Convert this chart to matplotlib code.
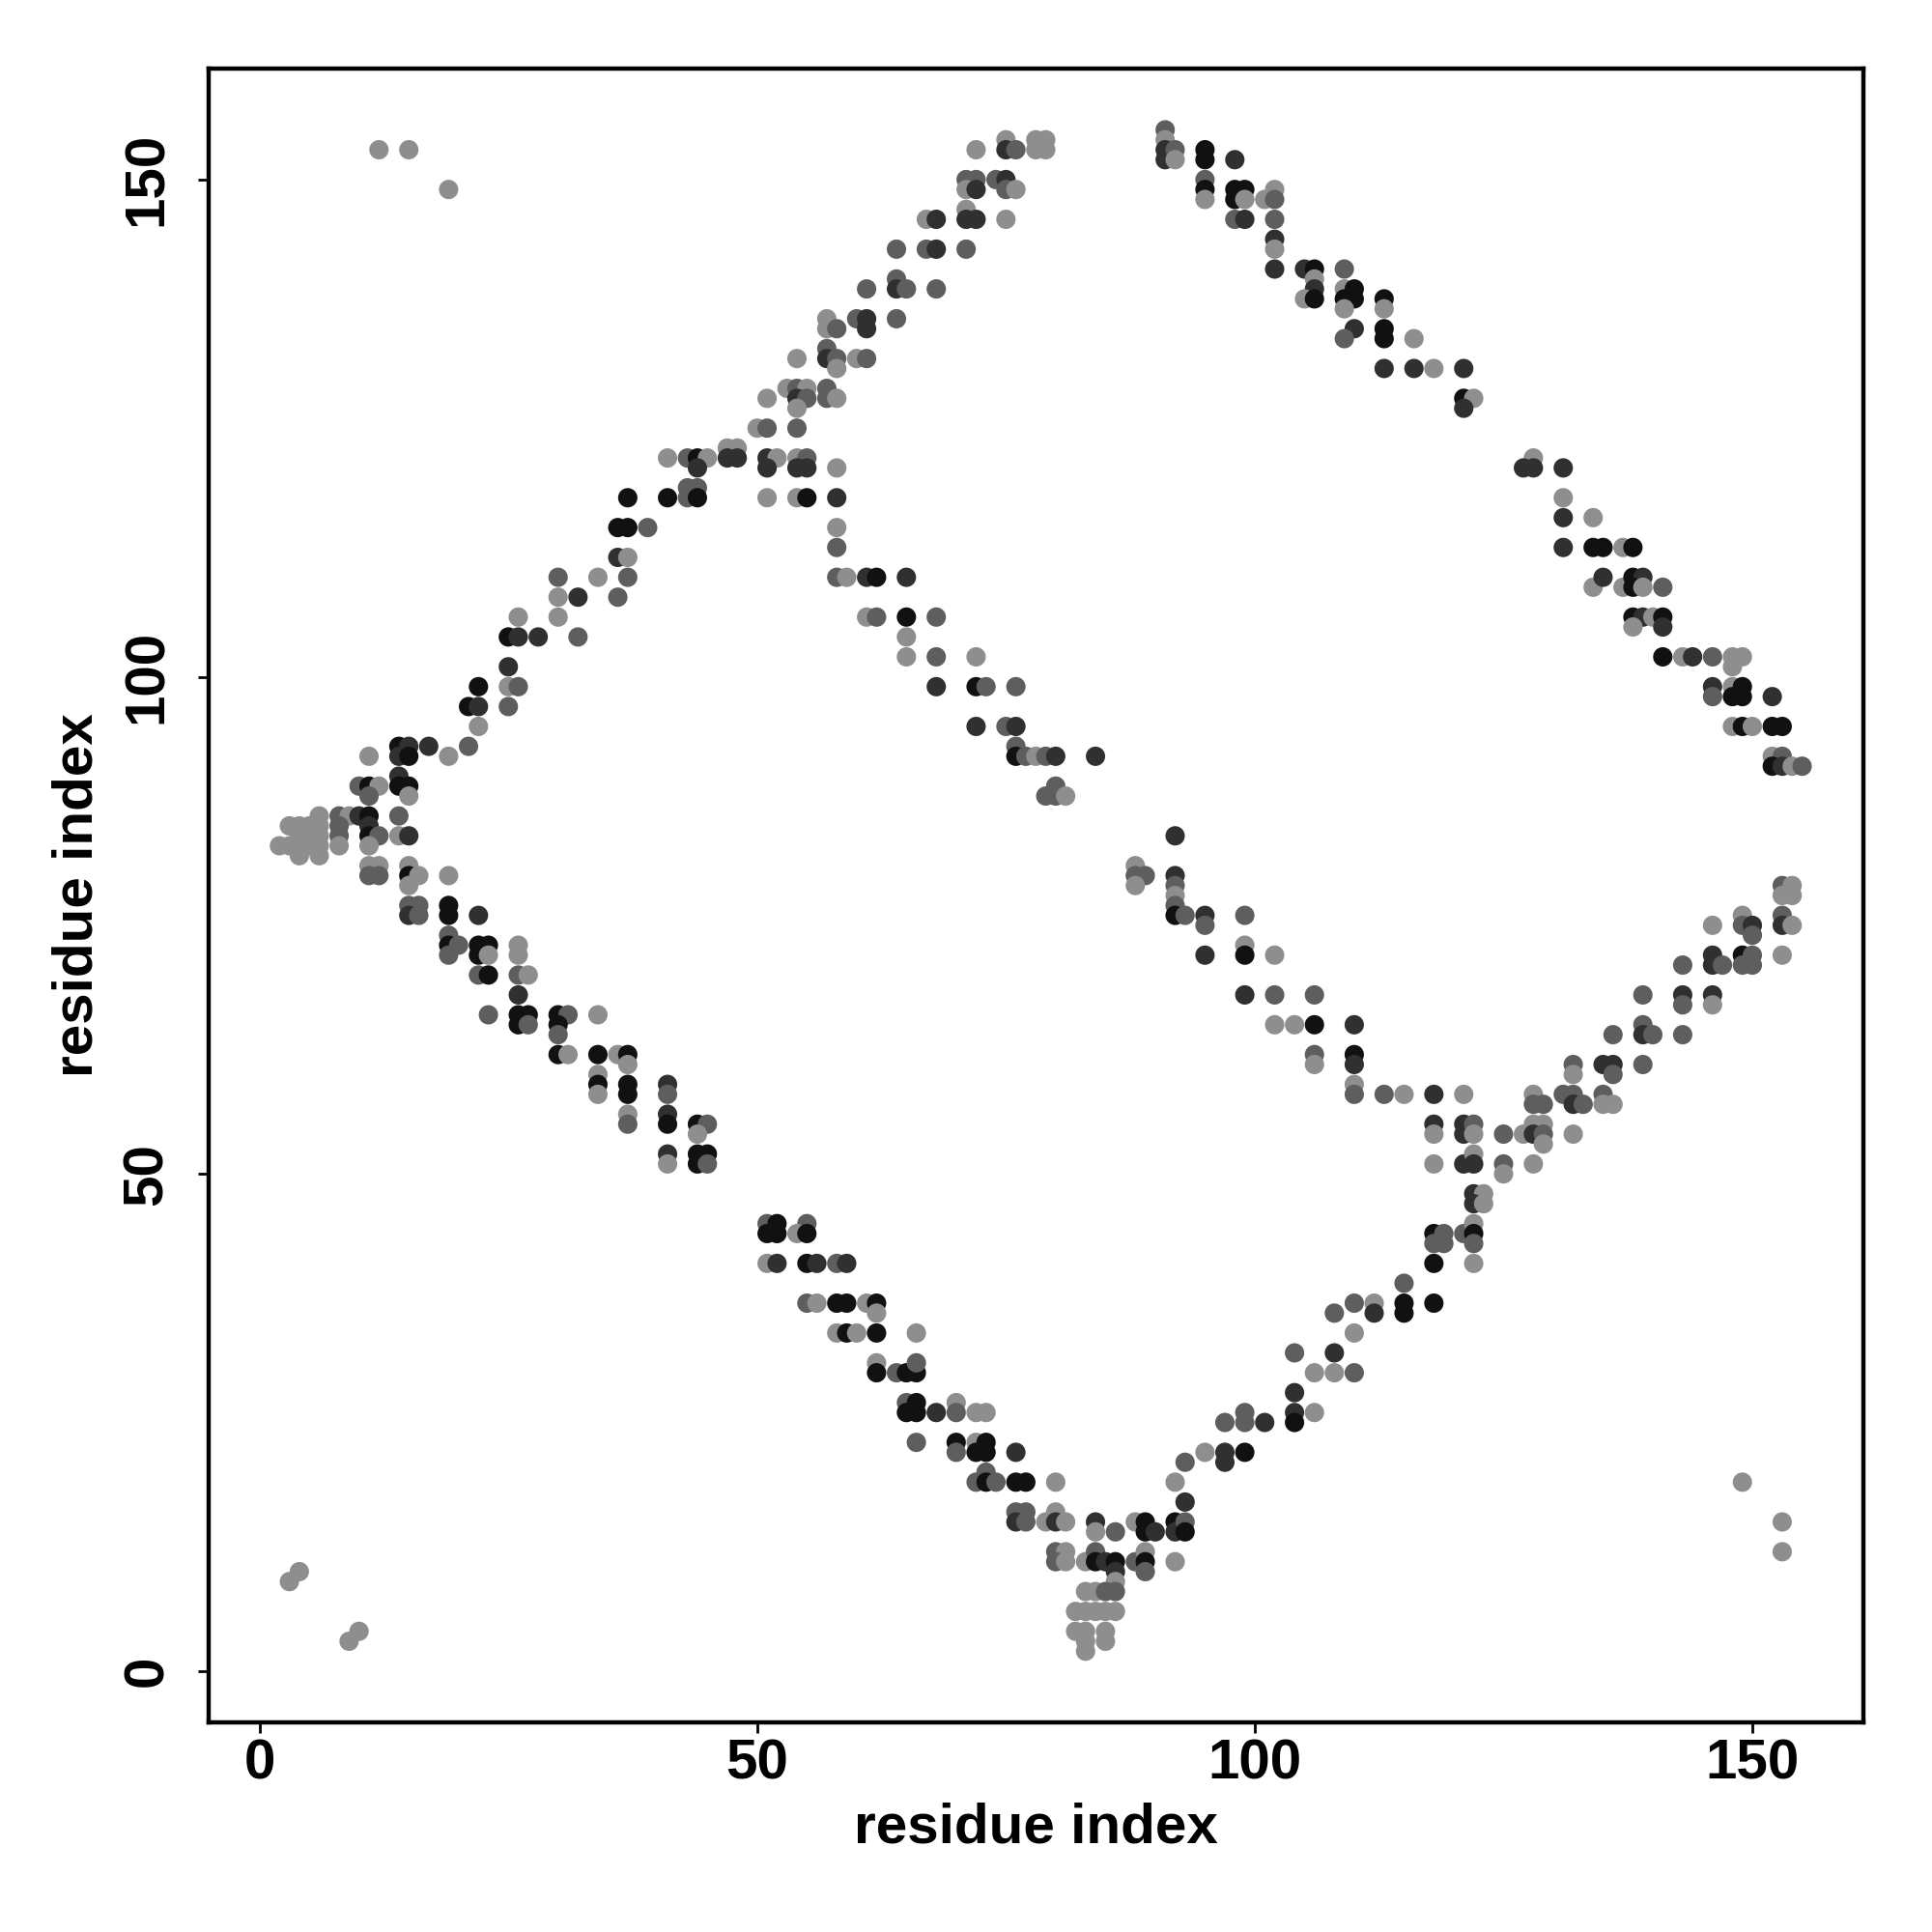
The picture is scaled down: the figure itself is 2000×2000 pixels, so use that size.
import matplotlib
matplotlib.use('Agg')
import matplotlib.pyplot as plt

# shade codes for each contact: black, dark grey, mid grey, light grey
b, d, m, l = 0, 1, 2, 3
SHADES = ['#111111', '#303030', '#5e5e5e', '#8e8e8e']

# (residue i, residue j, shade)
upper_left_arm = [
    (41, 122, l), (37, 118, b), (41, 118, b), (36, 115, b), (37, 115, b), (39, 115, m),
    (36, 112, d), (37, 112, l), (30, 110, m), (34, 110, l), (37, 110, m),
    (30, 108, l), (32, 108, d), (36, 108, m), (26, 106, l), (30, 106, l),
    (25, 104, b), (26, 104, d), (28, 104, d), (32, 104, m), (25, 101, d),
    (22, 99, b), (25, 99, l), (26, 99, m), (21, 97, b), (22, 97, d), (25, 97, m),
    (22, 95, l), (14, 93, b), (15, 93, d), (17, 93, d), (19, 92, l), (21, 93, m),
    (14, 92, d), (15, 92, b), (11, 92, l), (14, 90, d),
    (10, 89, m), (11, 89, b), (12, 89, l), (11, 88, m), (14, 89, b), (15, 89, b), (15, 88, l),
    (6, 86, l), (8, 86, m), (9, 86, l), (10, 86, d), (11, 86, b), (14, 86, m),
    (3, 85, l), (4, 85, l), (5, 85, l), (6, 85, l), (4, 84, l), (5, 84, l), (6, 84, l),
    (2, 83, l), (3, 83, l), (4, 83, l), (5, 83, l), (6, 83, l), (4, 82, l), (6, 82, l),
    (8, 85, m), (8, 84, m), (8, 83, l),
    (11, 85, d), (11, 84, b), (12, 84, m), (11, 83, l), (14, 84, l), (15, 84, d),
    (11, 81, l), (12, 81, l), (11, 80, m), (12, 80, m),
    (15, 81, l), (15, 80, b), (16, 80, l), (19, 80, l), (15, 79, l),
]

upper_left_top = [
    (72, 153, l), (75, 154, l), (75, 153, d), (76, 153, m),
    (78, 154, l), (79, 154, l), (78, 153, l), (79, 153, l),
    (71, 150, m), (72, 150, m), (71, 149, l), (72, 149, d),
    (74, 150, m), (75, 150, d), (75, 149, m), (76, 149, l),
    (67, 146, l), (68, 146, d), (71, 147, l), (71, 146, d), (72, 146, d), (75, 146, l),
    (64, 143, m), (67, 143, m), (68, 143, d), (71, 143, m),
    (64, 140, m), (64, 139, d), (65, 139, m), (61, 139, m), (68, 139, m),
    (57, 136, l), (57, 135, l), (58, 135, m), (60, 136, m), (61, 136, d), (61, 135, d), (64, 136, m),
    (54, 132, l), (57, 133, m), (57, 132, d), (58, 132, m), (58, 131, l), (60, 132, l), (61, 132, m),
    (51, 128, l), (53, 129, l), (54, 129, m), (55, 129, l), (54, 128, d), (55, 128, m), (54, 127, l),
    (57, 129, m), (57, 128, m), (58, 128, l),
    (50, 125, l), (51, 125, m), (54, 125, m),
    (43, 122, m), (44, 122, b), (45, 122, l), (44, 121, d),
    (47, 123, l), (48, 123, l), (47, 122, d), (48, 122, d),
    (51, 122, d), (52, 122, l), (51, 121, d),
    (54, 122, l), (55, 122, m), (54, 121, d), (55, 121, d), (58, 121, l),
    (43, 119, m), (44, 119, m), (43, 118, m), (44, 118, b),
    (51, 118, l), (54, 118, l), (55, 118, b), (58, 118, d),
    (58, 115, l), (58, 113, m),
]

inner_left_arm = [
    (58, 110, m), (59, 110, l), (61, 110, d), (62, 110, b), (65, 110, d),
    (61, 106, l), (62, 106, m), (65, 106, b), (68, 106, m), (65, 104, l),
    (65, 102, l), (68, 102, m), (72, 102, l),
    (68, 99, d), (72, 99, b), (73, 99, m), (76, 99, m),
    (72, 95, d), (75, 95, m), (76, 95, d),
    (76, 93, m), (76, 92, b), (77, 92, m), (78, 92, l), (79, 92, m), (80, 92, d), (84, 92, d),
    (80, 89, m), (79, 88, m), (80, 88, m), (81, 88, l),
]

lower_left_arm = [
    (15, 77, m), (16, 77, m), (15, 76, d), (16, 76, m), (19, 77, b), (19, 76, b), (22, 76, d),
    (19, 74, m), (19, 73, b), (20, 73, m), (19, 72, m),
    (22, 73, b), (23, 73, b), (22, 72, b), (23, 72, l), (26, 73, l), (26, 72, l),
    (22, 70, m), (23, 70, b), (26, 70, m), (27, 70, l), (26, 68, d),
    (23, 66, m), (26, 66, b), (27, 66, b), (26, 65, b), (27, 65, m),
    (30, 66, b), (31, 66, m), (30, 65, b), (30, 64, m), (34, 66, l),
    (30, 62, b), (31, 62, l), (34, 62, b), (36, 62, l), (37, 62, b), (37, 61, l),
    (34, 60, l), (34, 59, b), (34, 58, l), (37, 59, b), (37, 58, b),
    (41, 59, d), (41, 58, m), (37, 56, l), (37, 55, m), (41, 56, d), (41, 55, b),
    (44, 55, b), (45, 55, m), (44, 54, l), (41, 52, d), (41, 51, l),
    (44, 52, b), (45, 52, b), (44, 51, b), (45, 51, m),
]

middle_arm = [
    (51, 45, m), (52, 45, b), (51, 44, b), (52, 44, b), (55, 45, m), (54, 44, l), (55, 44, b),
    (51, 41, l), (52, 41, d), (55, 41, b), (56, 41, d), (58, 41, m), (59, 41, d),
    (55, 37, m), (56, 37, l), (58, 37, b), (59, 37, b), (61, 37, l), (62, 37, b), (62, 36, l),
    (58, 34, l), (59, 34, b), (60, 34, l), (62, 34, b), (66, 34, l),
    (62, 31, l), (62, 30, b), (64, 30, m), (65, 30, b), (66, 30, b), (66, 31, m),
    (65, 27, m), (66, 27, b), (65, 26, b), (66, 26, b), (68, 26, d), (70, 27, l), (70, 26, m),
    (72, 26, l), (73, 26, l),
    (66, 23, m), (70, 23, b), (70, 22, m), (72, 23, l), (73, 23, b), (72, 22, b), (73, 22, b), (76, 22, d),
    (72, 19, m), (73, 20, m), (73, 19, b), (74, 19, m), (76, 19, b), (77, 19, b), (80, 19, l),
    (76, 16, m), (77, 16, m), (76, 15, d), (77, 15, m), (80, 16, l), (79, 15, l), (80, 15, d), (81, 15, l),
    (84, 15, d), (84, 14, l), (86, 14, m),
    (88, 15, l), (89, 15, b), (89, 14, b), (90, 14, d), (92, 15, b), (92, 14, d), (93, 15, m), (93, 14, b),
    (80, 12, m), (81, 12, l), (80, 11, m), (81, 11, l),
    (83, 11, l), (84, 12, m), (84, 11, b), (85, 11, d), (86, 11, b), (86, 10, d), (86, 9, l), (86, 8, m),
    (88, 11, m), (89, 12, l), (89, 11, b), (89, 10, m), (92, 11, l),
    (83, 8, l), (84, 8, l), (85, 8, m),
    (82, 6, l), (83, 6, l), (84, 6, l), (85, 6, l), (86, 6, l),
    (82, 4, l), (83, 4, l), (85, 4, l), (83, 3, l), (85, 3, l), (83, 2, l),
]

lower_right_arm = [
    (93, 21, m), (92, 19, l), (93, 17, d),
    (95, 22, l), (97, 22, d), (97, 21, d), (99, 22, b),
    (97, 25, m), (99, 26, m), (99, 25, m), (101, 25, d),
    (104, 28, d), (104, 26, d), (104, 25, b), (106, 26, l),
    (104, 32, m), (108, 32, d), (106, 30, l), (108, 30, l), (110, 30, m),
    (108, 36, m), (110, 37, m), (112, 37, l), (112, 36, d), (110, 34, l),
    (115, 39, m), (115, 37, b), (115, 36, b), (118, 37, b),
    (118, 41, b), (122, 41, l),
    (118, 44, b), (119, 44, m), (118, 43, m), (119, 43, m), (121, 44, m), (122, 45, l), (122, 44, b), (122, 43, m),
    (122, 48, d), (123, 48, l), (122, 47, d), (123, 47, l),
    (118, 51, l), (121, 51, d), (122, 52, l), (122, 51, d), (125, 51, m), (125, 50, l), (128, 51, l),
    (118, 55, d), (118, 54, l), (121, 55, d), (121, 54, d), (122, 55, m), (122, 54, l), (125, 54, m),
    (127, 54, l), (128, 55, l), (129, 55, l), (128, 54, d), (129, 54, m), (129, 53, l), (132, 54, l),
    (110, 59, l), (110, 58, m), (113, 58, m), (115, 58, l), (118, 58, d), (121, 58, l),
    (128, 58, l), (128, 57, m), (129, 57, m), (131, 58, m), (132, 58, m), (132, 57, d), (133, 57, m),
    (135, 58, m), (135, 57, l), (136, 57, l),
    (132, 61, m), (132, 60, l), (135, 61, d), (136, 61, d), (136, 60, m), (139, 61, m),
    (136, 64, m), (139, 65, m), (139, 64, d), (140, 64, m), (143, 64, m),
    (139, 68, m), (143, 68, d), (143, 67, m), (146, 68, d), (146, 67, l),
    (143, 71, m), (146, 72, d), (146, 71, d), (147, 71, m), (149, 72, b), (150, 72, m), (149, 71, m), (150, 71, m),
    (146, 75, l), (149, 76, l), (149, 75, m), (150, 75, d), (150, 74, m),
    (153, 76, m), (153, 75, d), (154, 75, l), (153, 72, l),
    (153, 79, m), (154, 79, l), (153, 78, l), (154, 78, l),
]

inner_right_arm = [
    (92, 84, d), (88, 81, l), (88, 80, m), (89, 80, m), (88, 79, l),
    (92, 80, d), (92, 79, m), (92, 78, l), (92, 77, m), (92, 76, b), (93, 76, m),
    (95, 76, d), (95, 75, m), (99, 76, m),
    (95, 72, d), (99, 73, l), (99, 72, b), (102, 72, l),
    (99, 68, d), (102, 68, m), (106, 68, m),
    (102, 65, l), (104, 65, l), (106, 65, b), (110, 65, d),
    (106, 62, m), (106, 61, l), (110, 62, b), (110, 61, d),
]

upper_right_arm = [
    (91, 155, m), (91, 154, l), (91, 153, d), (91, 152, d), (92, 153, m), (92, 152, l),
    (95, 153, b), (95, 152, b), (98, 152, d),
    (95, 150, m), (95, 149, b), (95, 148, l),
    (98, 149, b), (99, 149, b), (98, 148, b), (99, 148, l), (101, 148, l), (102, 149, l), (102, 148, m),
    (98, 146, m), (99, 146, d), (102, 146, m),
    (102, 144, d), (102, 143, l), (102, 141, d),
    (105, 141, d), (106, 141, b), (106, 140, l), (106, 139, d), (105, 138, l), (106, 138, b),
    (109, 141, m), (109, 139, l), (110, 139, b), (109, 138, b), (110, 138, b), (109, 137, l),
    (113, 138, b), (113, 137, l),
    (110, 135, d), (109, 134, m), (113, 135, b), (113, 134, b), (116, 134, l),
    (113, 131, d), (116, 131, d), (118, 131, l), (121, 131, d),
    (121, 128, b), (122, 128, l), (121, 127, d),
    (128, 122, l), (127, 121, d), (128, 121, d), (131, 121, d),
    (131, 118, l), (131, 116, d), (134, 116, l),
    (131, 113, d), (134, 113, b), (135, 113, b), (137, 113, l), (138, 113, b),
    (134, 109, l), (135, 110, d), (137, 109, l), (138, 110, b), (139, 110, d), (138, 109, b),
    (139, 109, l), (141, 109, m),
    (138, 106, b), (139, 106, d), (140, 106, l), (141, 106, b), (138, 105, l), (141, 105, d),
    (141, 102, b), (143, 102, l), (144, 102, d), (146, 102, m), (148, 102, l), (149, 102, l), (148, 101, l),
    (146, 99, d), (146, 98, m), (148, 99, l), (149, 99, b), (148, 98, b), (149, 98, b), (152, 98, d),
    (148, 95, l), (149, 95, b), (150, 95, l), (152, 95, b), (153, 95, b),
    (152, 92, l), (153, 92, m), (152, 91, b), (153, 91, d), (154, 91, l), (155, 91, m),
]

stray_contacts = [
    (12, 153, l), (15, 153, l), (19, 149, l),
    (3, 9, l), (4, 10, l), (9, 3, l), (10, 4, l),
    (149, 19, l), (153, 15, l), (153, 12, l),
]

ticks = [0, 50, 100, 150]


plt.rcParams['font.family'] = ['Liberation Sans', 'DejaVu Sans']
plt.rcParams['font.weight'] = 'bold'

fig = plt.figure(figsize=(10, 10), dpi=200)
ax = fig.add_axes([0.10775, 0.1085, 0.85675, 0.856])

for seg in [upper_left_arm, upper_left_top, inner_left_arm, lower_left_arm,
            middle_arm, lower_right_arm, inner_right_arm, upper_right_arm, stray_contacts]:
    xs = [p[0] for p in seg]
    ys = [p[1] for p in seg]
    cs = [SHADES[p[2]] for p in seg]
    ax.scatter(xs, ys, s=52, c=cs, linewidths=0)

ax.set_xlim(-5.16, 161.16)
ax.set_ylim(-5.16, 161.16)
ax.set_xticks(ticks)
ax.set_yticks(ticks)
ax.tick_params(direction='out', length=3.8, width=1.0, labelsize=21)
ax.tick_params(axis='x', pad=2)
ax.tick_params(axis='y', pad=9)
for lbl in ax.get_yticklabels():
    lbl.set_rotation(90)
    lbl.set_va('center')
for sp in ax.spines.values():
    sp.set_linewidth(1.6)

ax.set_xlabel('residue index', fontsize=21, fontweight='bold')
ax.set_ylabel('residue index', fontsize=21, fontweight='bold')
ax.xaxis.set_label_coords(0.5, -0.064)
ax.xaxis.label.set_va('center')
ax.yaxis.set_label_coords(-0.079, 0.5)
ax.yaxis.label.set_va('center')

plt.savefig('out.png', dpi=200)
